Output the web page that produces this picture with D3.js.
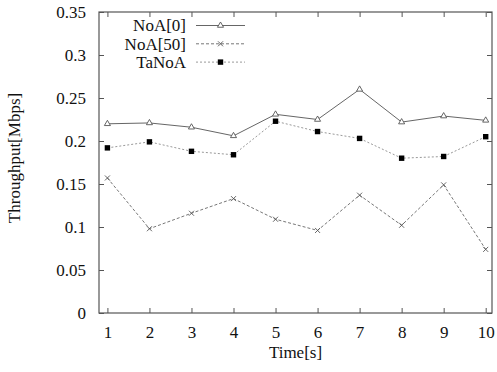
<!DOCTYPE html>
<html lang="en">
<head>
    <meta charset="utf-8">
    <title>Throughput</title>
    <script src="https://cdn.jsdelivr.net/npm/d3@7"></script>
    <style>
        body { margin: 0; background: #fff; }
    </style>
</head>
<body>
<script type="text/javascript">

    var times = [1, 2, 3, 4, 5, 6, 7, 8, 9, 10];
    var noa0 = [0.220, 0.221, 0.216, 0.206, 0.231, 0.225, 0.260, 0.222, 0.229, 0.224];
    var noa50 = [0.157, 0.098, 0.116, 0.133, 0.109, 0.096, 0.137, 0.102, 0.149, 0.074];
    var tanoa = [0.192, 0.199, 0.188, 0.184, 0.223, 0.211, 0.203, 0.180, 0.182, 0.205];
    var yTicks = [0, 0.05, 0.1, 0.15, 0.2, 0.25, 0.3, 0.35];
    var seriesNames = ["NoA[0]", "NoA[50]", "TaNoA"];

    var font = "'Liberation Serif', 'DejaVu Serif', serif";

    var margin = {top: 12, right: 5, bottom: 59, left: 99},
        w = 497 - margin.left - margin.right,
        h = 372 - margin.top - margin.bottom;

    var svg = d3.select("body").append("svg")
        .attr("width", 497)
        .attr("height", 372)
        .append("g")
        .attr("transform", "translate(" + margin.left + "," + margin.top + ")");

    var xScale = d3.scaleLinear().domain([0.8, 10.15]).range([0, w]);
    var yScale = d3.scaleLinear().domain([0, 0.35]).range([h, 0]);

    var frameColor = "#555";

    // ticks (inward, mirrored on top/right)
    var xAxis = d3.axisBottom(xScale).tickValues(times).tickSize(-5).tickPadding(13).tickFormat(d3.format("d"));
    var xAxisTop = d3.axisTop(xScale).tickValues(times).tickSize(-5).tickFormat("");
    var yAxis = d3.axisLeft(yScale).tickValues(yTicks).tickSize(-5).tickPadding(13).tickFormat(function (d) { return String(+d.toFixed(2)); });
    var yAxisRight = d3.axisRight(yScale).tickValues(yTicks).tickSize(-5).tickFormat("");

    var gx = svg.append("g").attr("transform", "translate(0," + h + ")").call(xAxis);
    var gxt = svg.append("g").call(xAxisTop);
    var gy = svg.append("g").call(yAxis);
    var gyr = svg.append("g").attr("transform", "translate(" + w + ",0)").call(yAxisRight);

    [gx, gxt, gy, gyr].forEach(function (g) {
        g.attr("font-family", null);
        g.select(".domain").remove();
        g.selectAll("line").attr("stroke", frameColor);
        g.selectAll("text")
            .style("font-family", font)
            .style("font-size", "17px")
            .attr("fill", "#111");
    });
    gx.selectAll("text").attr("dy", "0.71em");

    svg.append("rect")
        .attr("width", w)
        .attr("height", h)
        .attr("fill", "none")
        .attr("stroke", frameColor)
        .attr("stroke-width", 1.2);

    svg.append("text")
        .attr("x", w / 2)
        .attr("y", h + 45)
        .style("text-anchor", "middle")
        .style("font-family", font)
        .style("font-size", "17px")
        .attr("fill", "#111")
        .text("Time[s]");

    svg.append("text")
        .attr("transform", "translate(" + (14 - margin.left) + "," + (158 - margin.top) + ") rotate(-90)")
        .attr("dy", "0.35em")
        .style("text-anchor", "middle")
        .style("font-family", font)
        .style("font-size", "17px")
        .attr("fill", "#111")
        .text("Throughput[Mbps]");

    var line = d3.line()
        .x(function (d, i) { return xScale(times[i]); })
        .y(function (d) { return yScale(d); });

    var styles = [
        {data: noa0, stroke: "#666", dash: null, marker: "tri"},
        {data: noa50, stroke: "#777", dash: "3,2", marker: "x"},
        {data: tanoa, stroke: "#999", dash: "2,2", marker: "sq"}
    ];

    function drawMarker(g, type, x, y) {
        if (type === "tri") {
            g.append("path")
                .attr("d", d3.symbol().type(d3.symbolTriangle).size(16)())
                .attr("transform", "translate(" + x + "," + y + ")")
                .attr("fill", "#fff")
                .attr("stroke", "#555")
                .attr("stroke-width", 0.9);
        } else if (type === "x") {
            g.append("path")
                .attr("d", "M-2.5,-2.5L2.5,2.5M-2.5,2.5L2.5,-2.5")
                .attr("transform", "translate(" + x + "," + y + ")")
                .attr("stroke", "#555")
                .attr("stroke-width", 0.9);
        } else {
            g.append("rect")
                .attr("x", x - 2.7)
                .attr("y", y - 2.7)
                .attr("width", 5.4)
                .attr("height", 5.4)
                .attr("fill", "#000");
        }
    }

    styles.forEach(function (s) {
        svg.append("path")
            .datum(s.data)
            .attr("d", line)
            .attr("fill", "none")
            .attr("stroke", s.stroke)
            .attr("stroke-width", 1)
            .attr("stroke-dasharray", s.dash);
        var g = svg.append("g");
        s.data.forEach(function (d, i) {
            drawMarker(g, s.marker, xScale(times[i]), yScale(d));
        });
    });

    // legend
    var legend = svg.append("g").attr("transform", "translate(" + (186 - margin.left) + "," + (25.5 - margin.top) + ")");
    styles.forEach(function (s, i) {
        var ly = i * 18.3;
        legend.append("text")
            .attr("x", 0)
            .attr("y", ly)
            .attr("dy", "0.35em")
            .style("text-anchor", "end")
            .style("font-family", font)
            .style("font-size", "17px")
            .attr("fill", "#111")
            .text(seriesNames[i]);
        legend.append("line")
            .attr("x1", 10).attr("x2", 59)
            .attr("y1", ly).attr("y2", ly)
            .attr("stroke", s.stroke)
            .attr("stroke-dasharray", s.dash);
        drawMarker(legend, s.marker, 34.5, ly);
    });

</script>
</body>
</html>
